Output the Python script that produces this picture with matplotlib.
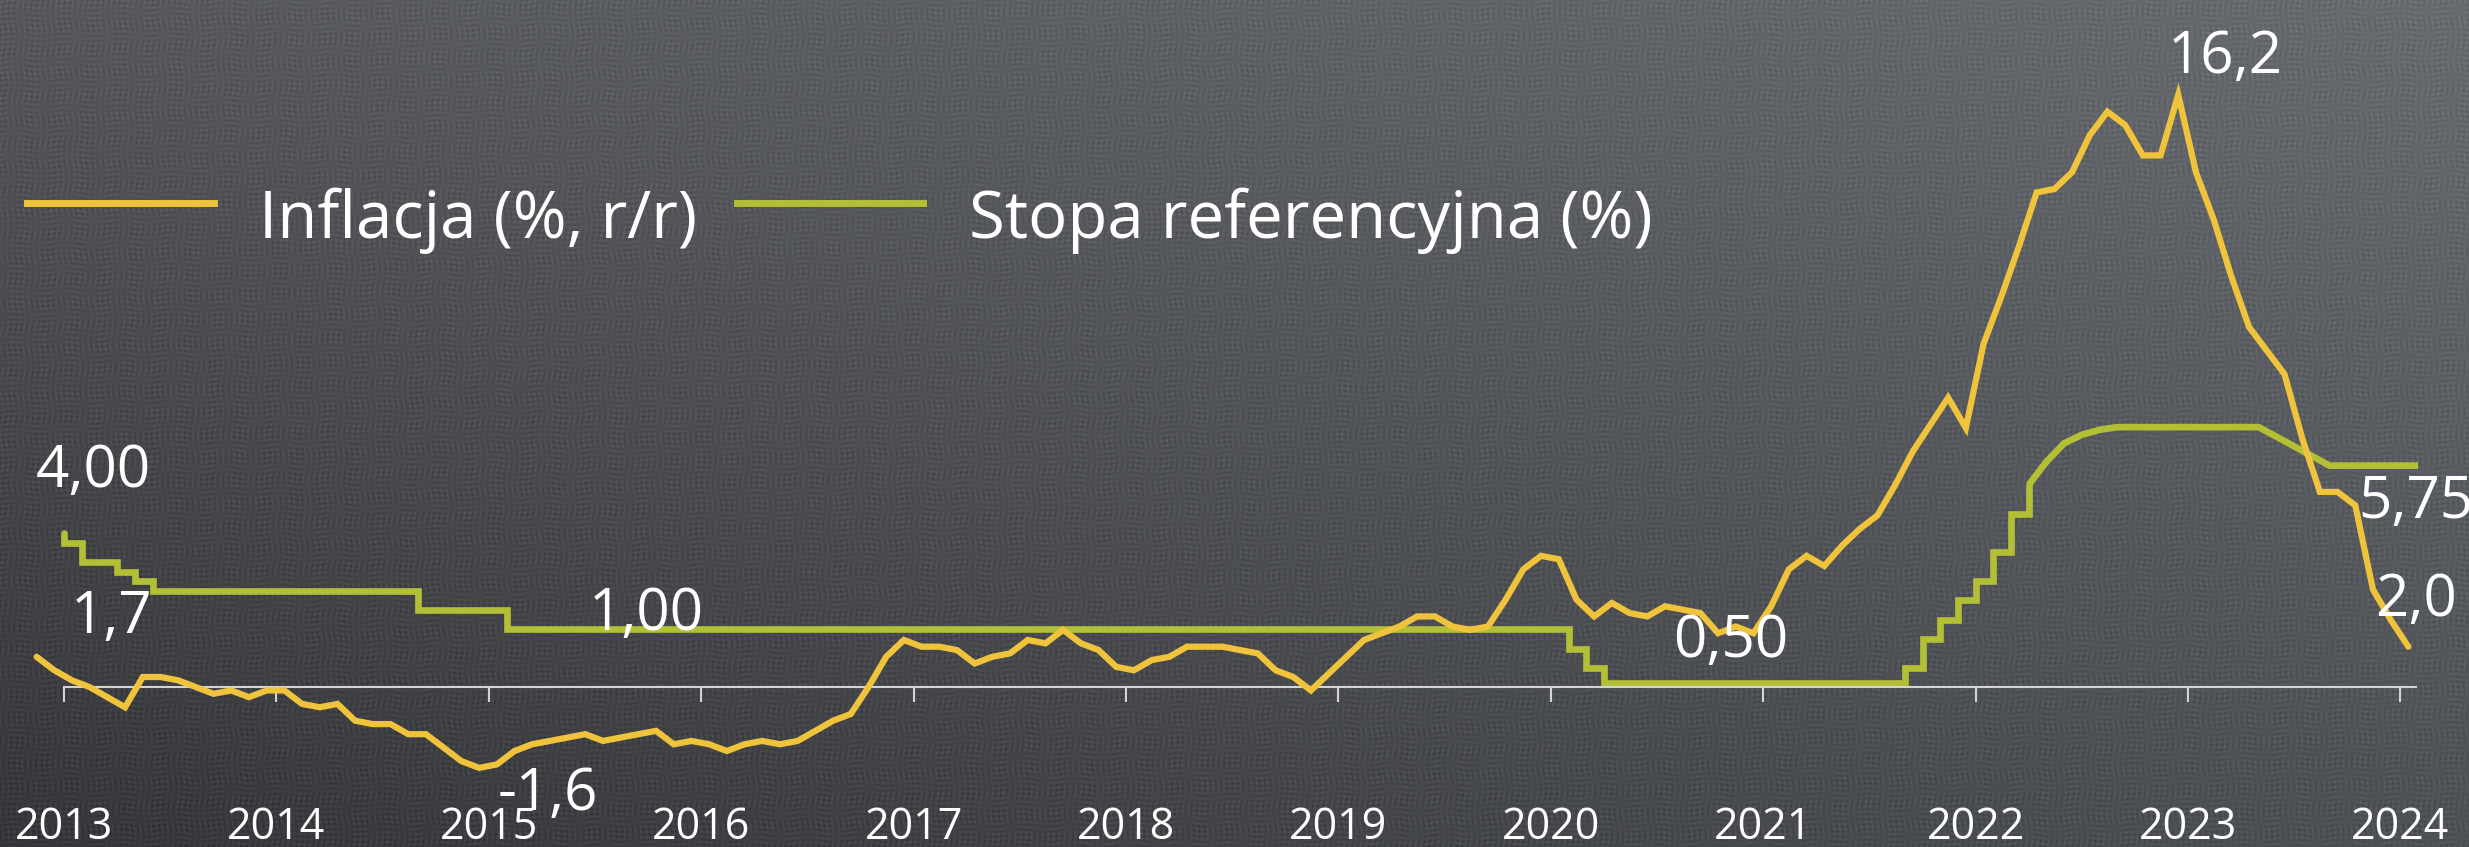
import numpy as np
import matplotlib
matplotlib.use("Agg")
import matplotlib.pyplot as plt
from matplotlib.lines import Line2D

plt.rcParams['font.family'] = ['Open Sans', 'DejaVu Sans']

# ---------------- data ----------------
years = list(range(2013, 2025))
year_labels = [str(y) for y in years]

# CPI y/y (%), monthly Jan 2013 - Mar 2024
inflation = [1.7, 1.3, 1.0, 0.8, 0.5, 0.2, 1.1, 1.1, 1.0, 0.8, 0.6, 0.7,
             0.5, 0.7, 0.7, 0.3, 0.2, 0.3, -0.2, -0.3, -0.3, -0.6, -0.6, -1.0,
             -1.4, -1.6, -1.5, -1.1, -0.9, -0.8, -0.7, -0.6, -0.8, -0.7, -0.6, -0.5,
             -0.9, -0.8, -0.9, -1.1, -0.9, -0.8, -0.9, -0.8, -0.5, -0.2, 0.0, 0.8,
             1.7, 2.2, 2.0, 2.0, 1.9, 1.5, 1.7, 1.8, 2.2, 2.1, 2.5, 2.1,
             1.9, 1.4, 1.3, 1.6, 1.7, 2.0, 2.0, 2.0, 1.9, 1.8, 1.3, 1.1,
             0.7, 1.2, 1.7, 2.2, 2.4, 2.6, 2.9, 2.9, 2.6, 2.5, 2.6, 3.4,
             4.3, 4.7, 4.6, 3.4, 2.9, 3.3, 3.0, 2.9, 3.2, 3.1, 3.0, 2.4,
             2.6, 2.4, 3.2, 4.3, 4.7, 4.4, 5.0, 5.5, 5.9, 6.8, 7.8, 8.6,
             9.4, 8.5, 11.0, 12.4, 13.9, 15.5, 15.6, 16.1, 17.2, 17.9, 17.5, 16.6,
             16.6, 18.4, 16.1, 14.7, 13.0, 11.5, 10.8, 10.1, 8.2, 6.6, 6.6, 6.2,
             3.7, 2.8, 2.0]
infl_month_shift = 1.55   # the inflation line is drawn shifted left by ~1.5 months

# Reference rate (%), monthly from Jan 2013, drawn as steps
rate_steps = ([4.00, 3.75, 3.25, 3.25, 3.00, 2.75] + [2.50] * 15 + [2.00] * 5 +
              [1.50] * 60 + [1.00, 0.50] + [0.10] * 17 +
              [0.50, 1.25, 1.75, 2.25, 2.75, 3.50, 4.50])
# Reference rate, smoothed tail from Apr 2022 to Feb 2024 (drawn as a line)
rate_tail_start = 111
rate_tail = ([5.25, 5.85, 6.33, 6.55, 6.68, 6.75] + [6.75] * 8 +
             [6.50, 6.25, 6.00, 5.75] + [5.75] * 5)

legend_labels = ["Inflacja (%, r/r)", "Stopa referencyjna (%)"]

# ---------------- styling ----------------
YELLOW = "#f0c33c"
GREEN = "#b3bf35"
AXIS = "#d4d4d4"
W, H, DPI = 2469, 847, 100

fig = plt.figure(figsize=(W / DPI, H / DPI), dpi=DPI)

# textured gradient background
bg = fig.add_axes([0, 0, 1, 1], zorder=-10)
yy, xx = np.mgrid[0:H, 0:W].astype(float)
u = (xx / (W - 1))[..., None]
v = (yy / (H - 1))[..., None]
TL = np.array([86, 88, 92.0]); TR = np.array([104, 107, 112.0])
BL = np.array([54, 55, 58.0]); BR = np.array([78, 81, 85.0])
img = TL * (1 - u) * (1 - v) + TR * u * (1 - v) + BL * (1 - u) * v + BR * u * v
tex = (6.5 * np.sin(2 * np.pi * xx / 5.5 + 1.7 * np.sin(2 * np.pi * yy / 47.0))
       * (0.55 + 0.45 * np.sin(2 * np.pi * yy / 23.0 + xx / 90.0))
       + 6.5 * np.sin(2 * np.pi * yy / 5.1 + 1.5 * np.sin(2 * np.pi * xx / 53.0))
       * (0.55 + 0.45 * np.sin(2 * np.pi * xx / 29.0 + yy / 70.0)))
img = np.clip(img + tex[..., None], 0, 255) / 255.0
bg.imshow(img, aspect='auto', interpolation='nearest')
bg.axis('off')

# main axes (rate) and twin (inflation)
px_per_year = 212.4
x0_px = 64
ax = fig.add_axes([0, 0, 1, 1])
ax.set_facecolor('none')
ax.set_xlim(2013 - x0_px / px_per_year, 2013 + (W - x0_px) / px_per_year)
ax.set_ylim(-(H - 687) / 38.5, 687 / 38.5)
ax2 = ax.twinx()
ax2.set_ylim(-(H - 714) / 33.65, 714 / 33.65)

for s in ['top', 'left', 'right']:
    ax.spines[s].set_visible(False)
for s in ax2.spines.values():
    s.set_visible(False)
ax.spines['bottom'].set_position(('data', 0))
ax.spines['bottom'].set_bounds(2013, 2024.073)
ax.spines['bottom'].set_color(AXIS)
ax.spines['bottom'].set_linewidth(1.5)
ax.set_xticks(years)
ax.tick_params(axis='x', direction='out', length=11, width=1.5, color=AXIS,
               labelbottom=False)
ax.set_yticks([])
ax2.set_yticks([])

# year labels
for yr, lab in zip(years, year_labels):
    ax.text(yr, 8 / H, lab, transform=ax.get_xaxis_transform(), ha='center',
            va='baseline', color='white', fontsize=31)

# reference rate
steps_x = 2013 + np.arange(len(rate_steps)) / 12.0
steps_x = np.append(steps_x, 2013 + rate_tail_start / 12.0)
steps_y = np.append(rate_steps, rate_tail[0])
ax.plot(steps_x, steps_y, drawstyle='steps-pre', color=GREEN, lw=4.8,
        solid_joinstyle='miter', solid_capstyle='round')
tail_x = 2013 + (rate_tail_start + np.arange(len(rate_tail))) / 12.0
ax.plot(tail_x, rate_tail, color=GREEN, lw=4.8, solid_joinstyle='round',
        solid_capstyle='butt')

# inflation
infl_x = 2013 + (np.arange(len(inflation)) - infl_month_shift) / 12.0
ax2.plot(infl_x, inflation, color=YELLOW, lw=4.5, solid_joinstyle='miter',
         solid_capstyle='round')

# legend
handles = [Line2D([], [], color=YELLOW, lw=5), Line2D([], [], color=GREEN, lw=5)]
fig.legend(handles, legend_labels, loc='center left',
           bbox_to_anchor=(27 / W, 1 - 217 / H), ncol=2, frameon=False,
           fontsize=47, handlelength=2.86, handletextpad=0.7, columnspacing=0.6,
           handleheight=1.93, borderpad=0, borderaxespad=0, labelcolor='white')

# value labels (text, baseline positions in pixels)
value_labels = [("4,00", 36, 487), ("1,7", 71, 633), ("1,00", 589, 630),
                ("-1,6", 498, 810), ("0,50", 1673, 657), ("16,2", 2168, 73),
                ("5,75", 2358, 518), ("2,0", 2375, 616)]
for s, xp, yb in value_labels:
    fig.text(xp / W, 1 - yb / H, s, ha='left', va='baseline', color='white',
             fontsize=42)

fig.savefig("out.png", dpi=DPI)
